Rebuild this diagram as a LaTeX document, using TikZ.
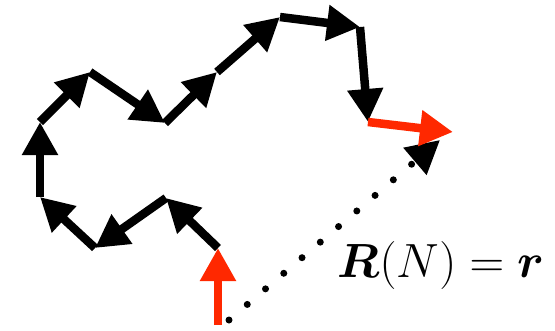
\documentclass[tikz,border=0pt]{standalone}
\usepackage{amsmath,bm,graphicx}
\usetikzlibrary{arrows.meta}
\definecolor{walkred}{RGB}{255,40,0}
\tikzset{
  stepline/.style={line width=8.5pt, -{Triangle[length=33pt,width=34pt]}},
  redstep/.style={stepline, draw=walkred},
  blackstep/.style={stepline, draw=black},
  endvec/.style={line width=7pt, line cap=round, dash pattern=on 0pt off 24pt, -{Triangle[length=33pt,width=34pt]}}
}
\begin{document}
\begin{tikzpicture}[x=1pt,y=-1pt]
\useasboundingbox (0,0) rectangle (555,330);
\coordinate (s) at (218,325);
\coordinate (p0) at (218,248);
\coordinate (p1) at (166,198);
\coordinate (p2) at (95,248);
\coordinate (p3) at (40,197);
\coordinate (p4) at (40,122);
\coordinate (p5) at (90,72);
\coordinate (p6) at (165,123);
\coordinate (p7) at (217,72);
\coordinate (p8) at (280,17);
\coordinate (p9) at (360,27);
\coordinate (p10) at (368,122);
\coordinate (p11) at (453,132);
\coordinate (d0) at (229,320);
\coordinate (d1) at (440,140);
\draw[endvec] (d0) -- (d1);
\draw[redstep] (s) -- (p0);
\draw[blackstep] (p0) -- (p1);
\draw[blackstep] (p1) -- (p2);
\draw[blackstep] (p2) -- (p3);
\draw[blackstep] (p3) -- (p4);
\draw[blackstep] (p4) -- (p5);
\draw[blackstep] (p5) -- (p6);
\draw[blackstep] (p6) -- (p7);
\draw[blackstep] (p7) -- (p8);
\draw[blackstep] (p8) -- (p9);
\draw[blackstep] (p9) -- (p10);
\draw[redstep] (p10) -- (p11);
\node[anchor=base, inner sep=0pt, font=\fontsize{24.88}{30}\selectfont] (lbl) at (441,277) {\scalebox{1.93}{$\bm{R}(N)=\bm{r}$}};
\end{tikzpicture}
\end{document}
